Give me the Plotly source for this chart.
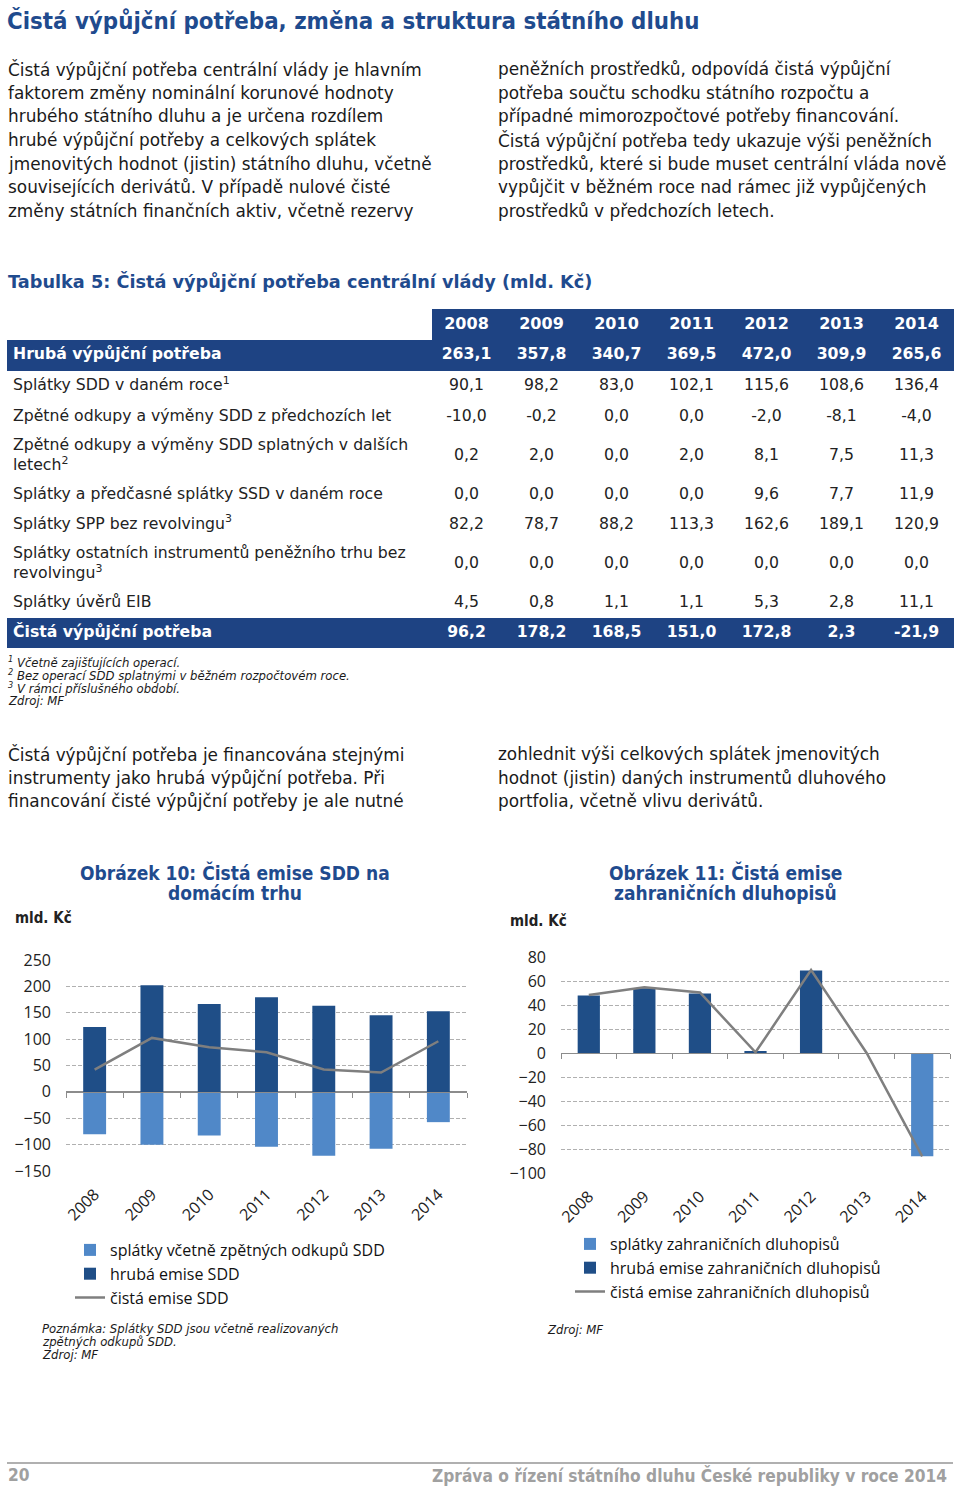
import plotly.graph_objects as go

W, H = 960, 1488
def px(x): return x / W
def py(y): return 1 - y / H

BLUE = "#1e4383"
TITLE_BLUE = "#1f4b8e"
DARK = "#1f4e87"
LIGHT = "#5088c8"
GRAY_LINE = "#7f7f7f"
BODY = "DejaVu Sans"
COND = "DejaVu Sans Condensed, DejaVu Sans"
CHART = "Open Sans"

years = ["2008", "2009", "2010", "2011", "2012", "2013", "2014"]

# ---- Table 5 data (mld. Kč) ----
row_labels = [
    "<b>Hrubá výpůjční potřeba</b>",
    "Splátky SDD v daném roce<sup>1</sup>",
    "Zpětné odkupy a výměny SDD z předchozích let",
    "Zpětné odkupy a výměny SDD splatných v dalších<br>letech<sup>2</sup>",
    "Splátky a předčasné splátky SSD v daném roce",
    "Splátky SPP bez revolvingu<sup>3</sup>",
    "Splátky ostatních instrumentů peněžního trhu bez<br>revolvingu<sup>3</sup>",
    "Splátky úvěrů EIB",
    "<b>Čistá výpůjční potřeba</b>",
]
hruba_vypujcni = [263.1, 357.8, 340.7, 369.5, 472.0, 309.9, 265.6]
splatky_sdd = [90.1, 98.2, 83.0, 102.1, 115.6, 108.6, 136.4]
zpetne_predchozi = [-10.0, -0.2, 0.0, 0.0, -2.0, -8.1, -4.0]
zpetne_dalsi = [0.2, 2.0, 0.0, 2.0, 8.1, 7.5, 11.3]
splatky_ssd = [0.0, 0.0, 0.0, 0.0, 9.6, 7.7, 11.9]
splatky_spp = [82.2, 78.7, 88.2, 113.3, 162.6, 189.1, 120.9]
splatky_ostatni = [0.0, 0.0, 0.0, 0.0, 0.0, 0.0, 0.0]
splatky_eib = [4.5, 0.8, 1.1, 1.1, 5.3, 2.8, 11.1]
cista_vypujcni = [96.2, 178.2, 168.5, 151.0, 172.8, 2.3, -21.9]
table_rows = [hruba_vypujcni, splatky_sdd, zpetne_predchozi, zpetne_dalsi,
              splatky_ssd, splatky_spp, splatky_ostatni, splatky_eib, cista_vypujcni]
bold_rows = [0, 8]

# ---- Chart 10: domestic SDD (mld. Kč) ----
c1_splatky = [-80.2, -100.4, -82.7, -104.2, -121.2, -108.0, -57.4]
c1_hruba = [123.1, 202.0, 166.7, 179.3, 163.5, 145.2, 152.8]
c1_cista = [42.3, 102.3, 84.6, 75.1, 42.3, 36.6, 96.0]

# ---- Chart 11: foreign bonds (mld. Kč) ----
c2_splatky = [0.0, 0.0, 0.0, 0.0, 0.0, 0.0, -86.0]
c2_hruba = [47.9, 54.0, 49.6, 1.0, 68.7, 0.0, 0.0]
c2_cista = [48.4, 54.8, 50.4, 0.6, 69.2, 0.0, -86.2]

# ---- Text ----
page_title = "Čistá výpůjční potřeba, změna a struktura státního dluhu"
para1_left = [
    "Čistá výpůjční potřeba centrální vlády je hlavním",
    "faktorem změny nominální korunové hodnoty",
    "hrubého státního dluhu a je určena rozdílem",
    "hrubé výpůjční potřeby a celkových splátek",
    "jmenovitých hodnot (jistin) státního dluhu, včetně",
    "souvisejících derivátů. V případě nulové čisté",
    "změny státních finančních aktiv, včetně rezervy",
]
para1_right = [
    "peněžních prostředků, odpovídá čistá výpůjční",
    "potřeba součtu schodku státního rozpočtu a",
    "případné mimorozpočtové potřeby financování.",
    "Čistá výpůjční potřeba tedy ukazuje výši peněžních",
    "prostředků, které si bude muset centrální vláda nově",
    "vypůjčit v běžném roce nad rámec již vypůjčených",
    "prostředků v předchozích letech.",
]
para2_left = [
    "Čistá výpůjční potřeba je financována stejnými",
    "instrumenty jako hrubá výpůjční potřeba. Při",
    "financování čisté výpůjční potřeby je ale nutné",
]
para2_right = [
    "zohlednit výši celkových splátek jmenovitých",
    "hodnot (jistin) daných instrumentů dluhového",
    "portfolia, včetně vlivu derivátů.",
]
table_title = "Tabulka 5: Čistá výpůjční potřeba centrální vlády (mld. Kč)"
table_notes = [
    "<sup>1</sup> Včetně zajišťujících operací.",
    "<sup>2</sup> Bez operací SDD splatnými v běžném rozpočtovém roce.",
    "<sup>3</sup> V rámci příslušného období.",
    "Zdroj: MF",
]
chart1_title = ["Obrázek 10: Čistá emise SDD na", "domácím trhu"]
chart2_title = ["Obrázek 11: Čistá emise", "zahraničních dluhopisů"]
chart1_names = ["splátky včetně zpětných odkupů SDD", "hrubá emise SDD", "čistá emise SDD"]
chart2_names = ["splátky zahraničních dluhopisů", "hrubá emise zahraničních dluhopisů",
                "čistá emise zahraničních dluhopisů"]
chart1_notes = ["Poznámka: Splátky SDD jsou včetně realizovaných", "zpětných odkupů SDD.", "Zdroj: MF"]
chart2_notes = ["Zdroj: MF"]
footer_left = "20"
footer_right = "Zpráva o řízení státního dluhu České republiky v roce 2014"

fig = go.Figure()

# ---- Table drawn on its own (hidden) cartesian axes, in page-pixel units ----
def fmt(v):
    return f"{v:.1f}".replace(".", ",")

TBL_TOP = 309
header_h = 31
row_heights = [31, 31, 30, 48, 30, 30, 48, 30, 30]
col_label_x = 13
col_first_w = 422
col_w = 75
tbl_left, tbl_right = 7, 954
header_left = tbl_left + col_first_w + 3

header_c = TBL_TOP + header_h / 2
row_c = []
acc = TBL_TOP + header_h
for h in row_heights:
    row_c.append(acc + h / 2)
    acc += h
col_c = [tbl_left + col_first_w + col_w * (j + 0.5) for j in range(len(years))]

tbl_axes = dict(xaxis="x5", yaxis="y5", showlegend=False, hoverinfo="skip")
fig.add_trace(go.Bar(orientation="h", y=[header_c], x=[tbl_right - header_left],
                     base=[header_left], width=[header_h], marker_color=BLUE,
                     marker_line_width=0, **tbl_axes))
fig.add_trace(go.Bar(orientation="h", y=[row_c[i] for i in bold_rows],
                     x=[tbl_right - tbl_left] * len(bold_rows), base=[tbl_left] * len(bold_rows),
                     width=[row_heights[i] for i in bold_rows], marker_color=BLUE,
                     marker_line_width=0, **tbl_axes))
fig.add_trace(go.Scatter(mode="text", x=col_c, y=[header_c] * len(years),
                         text=[f"<b>{y}</b>" for y in years], textposition="middle center",
                         textfont=dict(family=BODY, size=16, color="white"),
                         cliponaxis=False, **tbl_axes))
fig.add_trace(go.Scatter(mode="text", x=[col_label_x] * len(row_labels), y=row_c,
                         text=row_labels, textposition="middle right",
                         textfont=dict(family=BODY, size=15.7,
                                       color=["white" if i in bold_rows else "#222222"
                                              for i in range(len(row_labels))]),
                         cliponaxis=False, **tbl_axes))
nx, ny, nt, nc = [], [], [], []
for i, r in enumerate(table_rows):
    for j, v in enumerate(r):
        nx.append(col_c[j]); ny.append(row_c[i])
        nt.append(f"<b>{fmt(v)}</b>" if i in bold_rows else fmt(v))
        nc.append("white" if i in bold_rows else "#222222")
fig.add_trace(go.Scatter(mode="text", x=nx, y=ny, text=nt, textposition="middle center",
                         textfont=dict(family=BODY, size=15.7, color=nc),
                         cliponaxis=False, **tbl_axes))

# ---- Chart 10 ----
fig.add_trace(go.Bar(x=years, y=c1_splatky, name=chart1_names[0], marker_color=LIGHT,
                     marker_line_width=0, xaxis="x", yaxis="y", legend="legend"))
fig.add_trace(go.Bar(x=years, y=c1_hruba, name=chart1_names[1], marker_color=DARK,
                     marker_line_width=0, xaxis="x", yaxis="y", legend="legend"))
fig.add_trace(go.Scatter(x=years, y=c1_cista, name=chart1_names[2], mode="lines",
                         line=dict(color=GRAY_LINE, width=2.5), xaxis="x3", yaxis="y",
                         legend="legend"))

# ---- Chart 11 ----
fig.add_trace(go.Bar(x=years, y=c2_splatky, name=chart2_names[0], marker_color=LIGHT,
                     marker_line_width=0, xaxis="x2", yaxis="y2", legend="legend2"))
fig.add_trace(go.Bar(x=years, y=c2_hruba, name=chart2_names[1], marker_color=DARK,
                     marker_line_width=0, xaxis="x2", yaxis="y2", legend="legend2"))
fig.add_trace(go.Scatter(x=years, y=c2_cista, name=chart2_names[2], mode="lines",
                         line=dict(color=GRAY_LINE, width=2.5), xaxis="x4", yaxis="y2",
                         legend="legend2"))

y1_dom = [py(1171), py(960)]
y1_rng = [-150, 250]
y2_dom = [py(1173), py(957)]
y2_rng = [-100, 80]

def zero_pos(dom, rng):
    return dom[0] + (0 - rng[0]) / (rng[1] - rng[0]) * (dom[1] - dom[0])

tickfont = dict(family=CHART, size=16, color="#222222")
xcat = dict(type="category", range=[-0.5, 6.5], categoryorder="array", categoryarray=years,
            automargin=False)
grid = dict(showgrid=True, gridcolor="#b0b0b0", griddash="4px,2px", gridwidth=1,
            zeroline=True, zerolinecolor="#8c8c8c", zerolinewidth=1.2,
            ticks="", ticklabelstandoff=14, showline=False, automargin=False)
legfont = dict(family=CHART, size=16, color="#111111")

fig.update_layout(
    template="none",
    width=W, height=H,
    margin=dict(l=0, r=0, t=0, b=0, pad=0, autoexpand=False),
    paper_bgcolor="white", plot_bgcolor="white",
    barmode="relative", bargap=0.6,
    xaxis=dict(domain=[px(66), px(467)], anchor="y", tickangle=-45, tickfont=tickfont,
               showline=False, showgrid=False, zeroline=False, ticks="",
               ticklabelstandoff=10, **xcat),
    yaxis=dict(domain=y1_dom, anchor="x", range=y1_rng, dtick=50, tickfont=tickfont, **grid),
    xaxis3=dict(overlaying="x", anchor="free", position=zero_pos(y1_dom, y1_rng),
                showline=True, linecolor="#8c8c8c", linewidth=1.2, ticks="outside",
                ticklen=5, tickcolor="#8c8c8c", tickson="boundaries", zeroline=False,
                showticklabels=False, showgrid=False, **xcat),
    xaxis2=dict(domain=[px(561), px(950)], anchor="y2", tickangle=-45, tickfont=tickfont,
                showline=False, showgrid=False, zeroline=False, ticks="",
                ticklabelstandoff=10, **xcat),
    yaxis2=dict(domain=y2_dom, anchor="x2", range=y2_rng, dtick=20, tickfont=tickfont, **grid),
    xaxis4=dict(overlaying="x2", anchor="free", position=zero_pos(y2_dom, y2_rng),
                showline=True, linecolor="#8c8c8c", linewidth=1.2, ticks="outside",
                ticklen=5, tickcolor="#8c8c8c", tickson="boundaries", zeroline=False,
                showticklabels=False, showgrid=False, **xcat),
    xaxis5=dict(domain=[0, 1], range=[0, W], visible=False, fixedrange=True,
                automargin=False),
    yaxis5=dict(domain=[py(652), py(305)], range=[652, 305], anchor="x5", visible=False,
                fixedrange=True, automargin=False),
    legend=dict(x=px(70), y=py(1233), xanchor="left", yanchor="top", font=legfont,
                bgcolor="rgba(0,0,0,0)", tracegroupgap=0, traceorder="normal",
                itemclick=False, borderwidth=0),
    legend2=dict(x=px(570), y=py(1227), xanchor="left", yanchor="top", font=legfont,
                 bgcolor="rgba(0,0,0,0)", tracegroupgap=0, traceorder="normal",
                 itemclick=False, borderwidth=0),
    showlegend=True,
)

ann = []
def txt(x, y, s, size, color="#1a1a1a", family=BODY, anchor="left", valign="middle"):
    ann.append(dict(x=px(x), y=py(y), xref="paper", yref="paper", text=s, showarrow=False,
                    xanchor=anchor, yanchor=valign, align=anchor,
                    font=dict(family=family, size=size, color=color)))

txt(5, 21, f"<b>{page_title}</b>", 23.8, TITLE_BLUE, COND)

step = 23.7
BODY_SIZE = 16.9
for i, s in enumerate(para1_left):
    txt(6, 69 + i * step, s, BODY_SIZE)
for i, s in enumerate(para1_right):
    txt(496, 69 + i * step, s, BODY_SIZE)
for i, s in enumerate(para2_left):
    txt(6, 754 + i * step, s, BODY_SIZE)
for i, s in enumerate(para2_right):
    txt(496, 754 + i * step, s, BODY_SIZE)

txt(6, 282, f"<b>{table_title}</b>", 17.7, TITLE_BLUE)
for i, s in enumerate(table_notes):
    txt(6, 662 + i * 13, f"<i>{s}</i>", 11.7)

for i, s in enumerate(chart1_title):
    txt(235, 872 + i * 21, f"<b>{s}</b>", 19, TITLE_BLUE, COND, anchor="center")
for i, s in enumerate(chart2_title):
    txt(725, 872 + i * 21, f"<b>{s}</b>", 19, TITLE_BLUE, COND, anchor="center")
txt(13, 918, "<b>mld. Kč</b>", 15, "#222222", COND)
txt(508, 921, "<b>mld. Kč</b>", 15, "#222222", COND)

for i, s in enumerate(chart1_notes):
    txt(40, 1329 + i * 13, f"<i>{s}</i>", 11.7)
for i, s in enumerate(chart2_notes):
    txt(545, 1330 + i * 13, f"<i>{s}</i>", 11.7)

txt(6, 1475, f"<b>{footer_left}</b>", 17.2, "#a0a0a0", COND)
txt(949, 1475, f"<b>{footer_right}</b>", 17.2, "#a0a0a0", COND, anchor="right")

fig.update_layout(
    annotations=ann,
    shapes=[dict(type="line", xref="paper", yref="paper", x0=px(7), x1=px(953),
                 y0=py(1463), y1=py(1463), line=dict(color="#b0b0b0", width=2))],
)

fig.write_html("out.html", config={"displayModeBar": False},
               post_script="document.body.style.margin='0';document.body.style.padding='0';")
